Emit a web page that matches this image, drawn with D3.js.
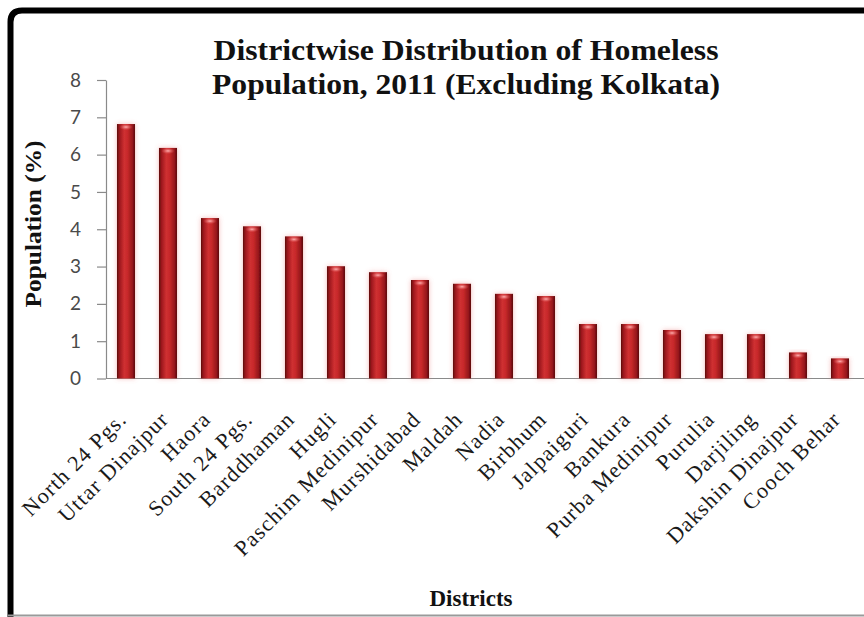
<!DOCTYPE html>
<html>
<head>
<meta charset="utf-8">
<script src="https://cdn.jsdelivr.net/npm/d3@7"></script>
<style>
  html, body { margin: 0; padding: 0; background: #fff; }
  svg { display: block; }
</style>
</head>
<body>
<svg id="chart" width="864" height="617"></svg>
<script>
// ---- data ----
const districts = ["North 24 Pgs.", "Uttar Dinajpur", "Haora", "South 24 Pgs.", "Barddhaman", "Hugli",
  "Paschim Medinipur", "Murshidabad", "Maldah", "Nadia", "Birbhum", "Jalpaiguri", "Bankura",
  "Purba Medinipur", "Purulia", "Darjiling", "Dakshin Dinajpur", "Cooch Behar"];
const populationPct = [6.82, 6.18, 4.30, 4.08, 3.81, 3.01, 2.85, 2.64, 2.54, 2.27, 2.21, 1.46, 1.46,
  1.30, 1.19, 1.19, 0.70, 0.54];
const yTicks = [0, 1, 2, 3, 4, 5, 6, 7, 8];
const titleLines = ["Districtwise Distribution of Homeless", "Population, 2011 (Excluding Kolkata)"];
const yTitle = "Population (%)";
const xTitle = "Districts";

// ---- setup ----
const svg = d3.select("#chart");
const W = 864, H = 617;

const x = d3.scaleBand().domain(districts).range([105, 861]).paddingInner(0.57).paddingOuter(0.285);
const y = d3.scaleLinear().domain([0, 8]).range([378.5, 80]);

const defs = svg.append("defs");
const grad = defs.append("linearGradient").attr("id", "barGrad").attr("x1", "0").attr("x2", "1").attr("y1", "0").attr("y2", "0");
[["0%", "#5e0a0b"], ["14%", "#9c191b"], ["40%", "#cf3032"], ["58%", "#c8292b"], ["86%", "#95171a"], ["100%", "#5a0809"]]
  .forEach(([o, c]) => grad.append("stop").attr("offset", o).attr("stop-color", c));
const capGrad = defs.append("radialGradient").attr("id", "capGrad");
capGrad.append("stop").attr("offset", "0%").attr("stop-color", "#ffb0b0");
capGrad.append("stop").attr("offset", "100%").attr("stop-color", "#e05456").attr("stop-opacity", 0);
const glow = defs.append("filter").attr("id", "glow").attr("x", "-50%").attr("y", "-10%").attr("width", "200%").attr("height", "120%");
glow.append("feDropShadow").attr("dx", 0).attr("dy", 0).attr("stdDeviation", 2.5).attr("flood-color", "#e86a6a").attr("flood-opacity", 0.45);

// ---- frame ----
svg.append("path")
  .attr("d", `M10.5,${H + 5} L10.5,22 Q10.5,10.5 22,10.5 L${W + 5},10.5`)
  .attr("fill", "none").attr("stroke", "#000").attr("stroke-width", 6);
svg.append("line").attr("x1", 8).attr("x2", W).attr("y1", 615.5).attr("y2", 615.5)
  .attr("stroke", "#9a9a9a").attr("stroke-width", 2);

// ---- title ----
const titleSizes = [505, 508];
svg.append("g").selectAll("text").data(titleLines).join("text")
  .attr("x", 466).attr("y", (d, i) => 60 + i * 34)
  .attr("text-anchor", "middle")
  .attr("font-family", "'Liberation Serif', 'Times New Roman', serif")
  .attr("font-weight", "bold").attr("font-size", 29)
  .attr("textLength", (d, i) => titleSizes[i]).attr("lengthAdjust", "spacingAndGlyphs")
  .attr("fill", "#111")
  .text(d => d);

// ---- y axis ----
const yAxis = svg.append("g").attr("transform", "translate(106,0)")
  .call(d3.axisLeft(y).tickValues(yTicks).tickSize(9).tickSizeOuter(0).tickPadding(16).tickFormat(d3.format("d")));
yAxis.select(".domain").attr("stroke", "#8a8a8a").attr("stroke-width", 1.2);
yAxis.selectAll(".tick line").attr("stroke", "#8a8a8a").attr("stroke-width", 1.2);
yAxis.selectAll(".tick text").attr("font-family", "Lato, 'Open Sans', sans-serif").attr("font-size", 19).attr("fill", "#4a4a4a");

// ---- x axis ----
const xAxis = svg.append("g").attr("transform", `translate(0,${y(0)})`)
  .call(d3.axisBottom(x).tickSize(0).tickSizeOuter(0).tickFormat(() => ""));
xAxis.select(".domain").attr("stroke", "#8a8a8a").attr("stroke-width", 1.2).attr("d", `M106,0H${W}`);

// ---- bars ----
const bars = svg.append("g");
bars.selectAll("rect").data(populationPct).join("rect")
  .attr("x", (d, i) => x(districts[i]))
  .attr("y", d => y(d))
  .attr("width", x.bandwidth())
  .attr("height", d => y(0) - y(d))
  .attr("fill", "url(#barGrad)")
  .attr("filter", "url(#glow)");
bars.selectAll("ellipse").data(populationPct).join("ellipse")
  .attr("cx", (d, i) => x(districts[i]) + x.bandwidth() / 2)
  .attr("cy", d => y(d) + 3)
  .attr("rx", x.bandwidth() * 0.38)
  .attr("ry", 3.2)
  .attr("fill", "url(#capGrad)");

// ---- category labels ----
svg.append("g").selectAll("text").data(districts).join("text")
  .attr("transform", d => `translate(${x(d) + x.bandwidth() / 2 + 2},${y(0) + 42}) rotate(-45)`)
  .attr("text-anchor", "end")
  .attr("font-family", "'Liberation Serif', 'Times New Roman', serif")
  .attr("font-size", 22).attr("letter-spacing", 1.2)
  .attr("fill", "#1a1a1a")
  .text(d => d);

// ---- axis titles ----
svg.append("text")
  .attr("transform", "translate(41,224) rotate(-90)")
  .attr("text-anchor", "middle")
  .attr("font-family", "'Liberation Serif', 'Times New Roman', serif")
  .attr("font-weight", "bold").attr("font-size", 23)
  .attr("textLength", 167).attr("lengthAdjust", "spacingAndGlyphs")
  .attr("fill", "#111")
  .text(yTitle);
svg.append("text")
  .attr("x", 471).attr("y", 606)
  .attr("text-anchor", "middle")
  .attr("font-family", "'Liberation Serif', 'Times New Roman', serif")
  .attr("font-weight", "bold").attr("font-size", 23)
  .attr("fill", "#111")
  .text(xTitle);
</script>
</body>
</html>
